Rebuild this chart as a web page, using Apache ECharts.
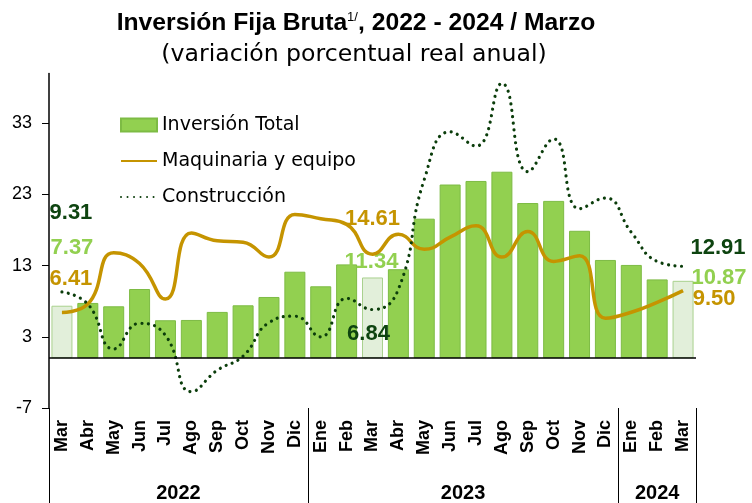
<!DOCTYPE html>
<html><head><meta charset="utf-8">
<script src="https://cdn.jsdelivr.net/npm/echarts@6/dist/echarts.min.js"></script>
<style>html,body{margin:0;padding:0;background:#fff}#c{width:752px;height:503px}</style>
</head><body><div id="c"></div>
<script>
// ---- data ----
const months = ['Mar','Abr','May','Jun','Jul','Ago','Sep','Oct','Nov','Dic','Ene','Feb','Mar','Abr','May','Jun','Jul','Ago','Sep','Oct','Nov','Dic','Ene','Feb','Mar'];
const years = ['2022','2023','2024'];
const yearMonthCounts = [10, 12, 3];
const inversionTotal = [7.37, 7.76, 7.29, 9.72, 5.33, 5.37, 6.5, 7.43, 8.6, 12.15, 10.1, 13.18, 11.34, 12.5, 19.6, 24.4, 24.9, 26.2, 21.8, 22.1, 17.9, 13.8, 13.1, 11.07, 10.87];
const maquinaria = [6.41, 7.6, 14.8, 13.3, 8.3, 17.6, 16.5, 16.3, 14.2, 20.2, 19.6, 18.8, 14.61, 17.4, 15.3, 17.0, 18.6, 14.2, 17.8, 13.6, 14.4, 5.6, 6.45, 7.85, 9.50];
const construccion = [9.31, 7.6, 1.3, 4.9, 3.2, -4.7, -1.7, 0.3, 5.0, 5.9, 3.0, 8.4, 6.84, 9.7, 25.1, 31.8, 29.8, 38.6, 26.2, 30.8, 21.0, 22.5, 17.7, 13.6, 12.91];
const yTickValues = [-7, 3, 13, 23, 33];
const seriesNames = ['Inversión Total', 'Maquinaria y equipo', 'Construcción'];
const highlightIdx = [0, 12, 24];

// ---- styles ----
const C_BAR = '#92d050', C_BAR_B = '#7dbb44', C_LIGHT = '#e2efda', C_LIGHT_B = '#a9d18e';
const C_GOLD = '#c59400', C_DARK = '#0b3d0b', C_DARKLBL = '#0e4410';
const LBL_FONT = {fontFamily: 'Liberation Sans', fontWeight: 'bold', fontSize: 22, lineHeight: 22};
const labelOffsets = {
  total: {0: [10, -47], 12: [-1, -5], 24: [36, 8]},
  maq:   {0: [9, -34], 12: [0, -35], 24: [31, 8]},
  cons:  {0: [9, -79], 12: [-4, 24], 24: [35, -18]}
};

const barData = inversionTotal.map((v, i) => {
  const it = {value: v};
  if (highlightIdx.includes(i)) {
    it.itemStyle = {color: C_LIGHT, borderColor: C_LIGHT_B};
    it.label = Object.assign({show: true, position: 'top', distance: 0, color: C_BAR,
      offset: labelOffsets.total[i], formatter: p => p.value.toFixed(2)}, LBL_FONT);
  }
  return it;
});
function lineData(arr, key, color) {
  return arr.map((v, i) => {
    if (!highlightIdx.includes(i)) return v;
    return {value: v, symbol: 'circle', symbolSize: 1, itemStyle: {color: 'rgba(0,0,0,0)', borderWidth: 0},
      label: Object.assign({show: true, position: 'inside', color: color, offset: labelOffsets[key][i],
        formatter: p => p.value.toFixed(2)}, LBL_FONT)};
  });
}
// year label slots on a half-month point axis
const yearSlots = new Array(months.length * 2 + 1).fill('');
let start = 0;
years.forEach((y, k) => { yearSlots[2 * start + yearMonthCounts[k]] = y; start += yearMonthCounts[k]; });
const boundaries = [];
start = 0;
yearMonthCounts.forEach(n => { boundaries.push(start); start += n; });

const chart = echarts.init(document.getElementById('c'), null, {renderer: 'canvas'});
chart.setOption({
  animation: false,
  backgroundColor: '#fff',
  graphic: [
    {type: 'text', x: 356, y: 23, style: {
      text: 'Inversión Fija Bruta{sup|1/}, 2022 - 2024 / Marzo', textAlign: 'center', textVerticalAlign: 'middle',
      fontFamily: 'Liberation Sans', fontWeight: 'bold', fontSize: 24.7, fill: '#000',
      rich: {sup: {fontFamily: 'Liberation Sans', fontSize: 13, fontWeight: 'normal', verticalAlign: 'top', padding: [0, 0, 10, 0]}}
    }},
    {type: 'text', x: 354, y: 55, style: {
      text: '(variación porcentual real anual)', textAlign: 'center', textVerticalAlign: 'middle',
      fontFamily: 'DejaVu Sans', fontSize: 23.6, fill: '#000'
    }}
  ],
  legend: {
    orient: 'vertical', left: 115, top: 109, itemWidth: 36, itemHeight: 13, itemGap: 14,
    data: [
      {name: seriesNames[0], icon: 'rect'},
      {name: seriesNames[1], itemStyle: {opacity: 0}},
      {name: seriesNames[2], itemStyle: {opacity: 0}}
    ],
    textStyle: {fontFamily: 'DejaVu Sans', fontSize: 19, color: '#000', lineHeight: 22}
  },
  grid: {left: 49, right: 56, top: 73.5, bottom: 93.7, containLabel: false},
  xAxis: [
    {type: 'category', data: months, position: 'bottom',
     axisLine: {show: false, onZero: false},
     axisTick: {show: true, length: 96, interval: (i) => boundaries.includes(i), lineStyle: {color: '#000', width: 1}},
     axisLabel: {interval: 0, rotate: 90, margin: 12, fontFamily: 'Liberation Sans', fontWeight: 'bold', fontSize: 18, color: '#000'},
     splitLine: {show: false}},
    {type: 'category', data: yearSlots, position: 'bottom', boundaryGap: false,
     axisLine: {show: false, onZero: false}, axisTick: {show: false},
     axisLabel: {interval: 0, margin: 75, fontFamily: 'Liberation Sans', fontWeight: 'bold', fontSize: 20, color: '#000'},
     splitLine: {show: false}}
  ],
  yAxis: {
    type: 'value', min: -7, max: 40,
    axisLine: {show: true, lineStyle: {color: '#000', width: 1.5}},
    axisTick: {show: true, length: 7, customValues: yTickValues, lineStyle: {color: '#000'}},
    axisLabel: {customValues: yTickValues, margin: 17, fontFamily: 'Liberation Sans', fontSize: 18, color: '#000'},
    splitLine: {show: false}
  },
  series: [
    {name: seriesNames[0], type: 'bar', data: barData, barWidth: 21,
     itemStyle: {color: C_BAR, borderColor: C_BAR_B, borderWidth: 1},
     markLine: {silent: true, symbol: ['none', 'none'], label: {show: false},
       lineStyle: {color: '#000', width: 1.5, type: 'solid'}, data: [{yAxis: 0}]}, z: 2},
    {name: seriesNames[1], type: 'line', data: lineData(maquinaria, 'maq', C_GOLD), smooth: true,
     symbol: 'none', showAllSymbol: true, lineStyle: {color: C_GOLD, width: 3.5}, itemStyle: {color: C_GOLD}, z: 3},
    {name: seriesNames[2], type: 'line', data: lineData(construccion, 'cons', C_DARKLBL), smooth: true,
     symbol: 'none', showAllSymbol: true, lineStyle: {color: C_DARK, width: 3.2, type: [0.01, 6.5], cap: 'round'},
     itemStyle: {color: C_DARK}, z: 4}
  ]
});
</script></body></html>
